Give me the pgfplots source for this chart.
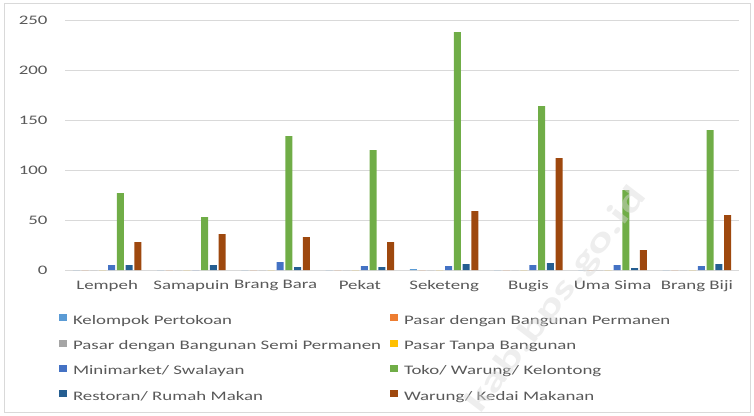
\documentclass[border=0pt]{standalone}
\usepackage{fontspec}
\setmainfont{Carlito}[FakeStretch=1.45]
\usepackage{pgfplots}
\pgfplotsset{compat=1.18}

\definecolor{cKel}{HTML}{5B9BD5}
\definecolor{cPerm}{HTML}{ED7D31}
\definecolor{cSemi}{HTML}{A5A5A5}
\definecolor{cTanpa}{HTML}{FFC000}
\definecolor{cMini}{HTML}{4472C4}
\definecolor{cToko}{HTML}{70AD47}
\definecolor{cResto}{HTML}{255E91}
\definecolor{cWarung}{HTML}{9E480E}
\definecolor{txtgray}{HTML}{595959}
\definecolor{gridgray}{HTML}{D9D9D9}

\begin{document}
\begin{tikzpicture}[x=1bp,y=1bp]
\path[use as bounding box] (0,0) rectangle (754,415);
\draw[gridgray, line width=0.75bp] (4,3) rectangle (750,412);
\begin{axis}[
  at={(65bp,145bp)}, anchor=south west,
  width=674bp, height=250bp, scale only axis,
  xmin=-0.5, xmax=7.5, ymin=0, ymax=250,
  ybar=1.8bp, bar width=7bp,
  axis line style={draw=none},
  ytick={0,50,...,250},
  ymajorgrids, grid style={gridgray, line width=0.9bp},
  xtick={0,...,7},
  xticklabels={Lempeh, Samapuin, Brang Bara, Pekat, Seketeng, Bugis, Uma Sima, Brang Biji},
  major tick length=0pt,
  /pgf/number format/assume math mode=true,
  tick label style={font=\fontsize{13bp}{15bp}\selectfont, text=txtgray},
  yticklabel style={xshift=-14bp},
  xticklabel style={yshift=-7bp},
  legend columns=2,
  legend cell align=left,
  legend image code/.code={\fill[#1] (0bp,0bp) rectangle (7.5bp,7bp); \path (0bp,0bp) (14bp,0bp);},
  legend style={draw=none, fill=none, inner sep=0pt, outer sep=0pt,
    at={(axis description cs:0,0)}, anchor=north west, xshift=-6bp, yshift=-44.3bp,
    row sep=12.3bp, column sep=0pt,
    font=\fontsize{13bp}{15bp}\selectfont, text=txtgray,
    nodes={inner sep=0pt, text width=317bp, text height=9bp, text depth=3bp}},
  every axis plot/.append style={draw=none},
]
\addplot[fill=cKel] coordinates {(0,0) (1,0) (2,0) (3,0) (4,1) (5,0) (6,0) (7,0)};
\addlegendentry{Kelompok Pertokoan}
\addplot[fill=cPerm] coordinates {(0,0) (1,0) (2,0) (3,0) (4,0) (5,0) (6,0) (7,0)};
\addlegendentry{Pasar dengan Bangunan Permanen}
\addplot[fill=cSemi] coordinates {(0,0) (1,0) (2,0) (3,0) (4,0) (5,0) (6,0) (7,0)};
\addlegendentry{Pasar dengan Bangunan Semi Permanen}
\addplot[fill=cTanpa] coordinates {(0,0) (1,0) (2,0) (3,0) (4,0) (5,0) (6,0) (7,0)};
\addlegendentry{Pasar Tanpa Bangunan}
\addplot[fill=cMini] coordinates {(0,5) (1,0) (2,8) (3,4) (4,4) (5,5) (6,5) (7,4)};
\addlegendentry{Minimarket/ Swalayan}
\addplot[fill=cToko] coordinates {(0,77) (1,53) (2,134) (3,120) (4,238) (5,164) (6,80) (7,140)};
\addlegendentry{Toko/ Warung/ Kelontong}
\addplot[fill=cResto] coordinates {(0,5) (1,5) (2,3) (3,3) (4,6) (5,7) (6,2) (7,6)};
\addlegendentry{Restoran/ Rumah Makan}
\addplot[fill=cWarung] coordinates {(0,28) (1,36) (2,33) (3,28) (4,59) (5,112) (6,20) (7,55)};
\addlegendentry{Warung/ Kedai Makanan}
\end{axis}
\node[anchor=east, rotate=52.7, font=\bfseries\fontsize{34bp}{36bp}\selectfont,
  text=gray!30, text opacity=0.45] at (642,227) {kab.bps.go.id};
\end{tikzpicture}
\end{document}
